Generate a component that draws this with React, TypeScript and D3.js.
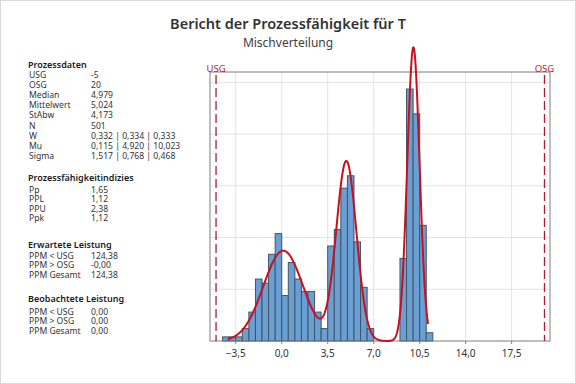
import * as d3 from "d3"

// histogram: lower bin edges (width 0.5) and counts
const binLower = [
  -4.5, -4.0, -3.5, -3.0, -2.5, -2.0, -1.5, -1.0, -0.5, 0.0, 0.5, 1.0, 1.5, 2.0,
  2.5, 3.0, 3.5, 4.0, 4.5, 5.0, 5.5, 6.0, 6.5, 7.0, 7.5, 8.0, 8.5, 9.0, 9.5,
  10.0, 10.5, 11.0,
]
const binCounts = [
  1, 1, 1, 3, 7, 15, 14, 21, 26, 11, 19, 15, 12, 12, 7, 3, 23, 27, 37, 40, 24,
  13, 3, 0, 0, 0, 0, 20, 61, 55, 28, 2,
]
const binWidth = 0.5
const sampleN = 501

// fitted mixture (W, Mu, Sigma as printed)
const mixW = [0.332, 0.334, 0.333]
const mixMu = [0.115, 4.92, 10.023]
const mixSigma = [1.517, 0.768, 0.468]
const curveRange = [-4.1, 11.15]

const lsl = -5
const usl = 20
const xTicks = [-3.5, 0, 3.5, 7, 10.5, 14, 17.5]
const yGrid = [0.05, 0.1, 0.15, 0.2, 0.25]

const title = "Bericht der Prozessfähigkeit für T"
const subtitle = "Mischverteilung"

const prozessdaten = [
  ["USG", "-5"],
  ["OSG", "20"],
  ["Median", "4,979"],
  ["Mittelwert", "5,024"],
  ["StAbw", "4,173"],
  ["N", "501"],
  ["W", "0,332 | 0,334 | 0,333"],
  ["Mu", "0,115 | 4,920 | 10,023"],
  ["Sigma", "1,517 | 0,768 | 0,468"],
]
const indizes = [
  ["Pp", "1,65"],
  ["PPL", "1,12"],
  ["PPU", "2,38"],
  ["Ppk", "1,12"],
]
const erwartet = [
  ["PPM < USG", "124,38"],
  ["PPM > OSG", "-0,00"],
  ["PPM Gesamt", "124,38"],
]
const beobachtet = [
  ["PPM < USG", "0,00"],
  ["PPM > OSG", "0,00"],
  ["PPM Gesamt", "0,00"],
]

const W = 576
const H = 384
const plot = { left: 210, right: 550, top: 72, bottom: 341 }
const font = "'Segoe UI', 'Noto Sans', sans-serif"

const de = d3.formatLocale({
  decimal: ",",
  thousands: ".",
  grouping: [3],
  currency: ["", " €"],
})
const fmt1 = de.format(".1f")

function normPdf(x: number, mu: number, s: number) {
  const z = (x - mu) / s
  return Math.exp(-0.5 * z * z) / (s * Math.sqrt(2 * Math.PI))
}

export default function App() {
  const x = d3.scaleLinear().domain([-5.46, 20.42]).range([plot.left, plot.right])
  const y = d3.scaleLinear().domain([0, 0.26]).range([plot.bottom, plot.top])

  const density = (c: number) => c / (sampleN * binWidth)

  const curvePts = d3
    .range(curveRange[0], curveRange[1] + 0.001, 0.02)
    .map((v) => [v, d3.sum(mixW, (w, i) => w * normPdf(v, mixMu[i], mixSigma[i]))] as [number, number])
  const line = d3
    .line<[number, number]>()
    .x((d) => x(d[0]))
    .y((d) => y(d[1]))

  const sections = [
    { head: "Prozessdaten", y0: 67.5, first: 77.5, step: 10.2, rows: prozessdaten },
    { head: "Prozessfähigkeitindizies", y0: 180.5, first: 192.5, step: 9.6, rows: indizes },
    { head: "Erwartete Leistung", y0: 247.5, first: 258.5, step: 9.8, rows: erwartet },
    { head: "Beobachtete Leistung", y0: 301.5, first: 314.5, step: 9.7, rows: beobachtet },
  ]

  return (
    <svg
      width={W}
      height={H}
      style={{ position: "fixed", left: 0, top: 0, background: "#fff" }}
      fontFamily={font}
    >
      <rect x={0.5} y={0.5} width={W - 1} height={H - 1} fill="#fff" stroke="#d9d9d9" />

      <text x={W / 2} y={29} textAnchor="middle" fontSize={14.5} fontWeight={600} fill="#333">
        {title}
      </text>
      <text x={W / 2} y={47} textAnchor="middle" fontSize={12} fill="#404040">
        {subtitle}
      </text>

      {sections.map((s) => (
        <g key={s.head}>
          <text x={28} y={s.y0} fontSize={9} fontWeight={600} fill="#1a1a1a">
            {s.head}
          </text>
          {s.rows.map((r, i) => (
            <g key={r[0]} fontSize={8.6} fill="#333">
              <text x={29} y={s.first + i * s.step}>
                {r[0]}
              </text>
              <text x={91} y={s.first + i * s.step}>
                {r[1]}
              </text>
            </g>
          ))}
        </g>
      ))}

      {/* gridlines */}
      {xTicks.map((t) => (
        <line key={"gx" + t} x1={x(t)} x2={x(t)} y1={plot.top} y2={plot.bottom} stroke="#e3e3e3" />
      ))}
      {yGrid.map((g) => (
        <line key={"gy" + g} x1={plot.left} x2={plot.right} y1={y(g)} y2={y(g)} stroke="#e3e3e3" />
      ))}

      {/* bars */}
      {binCounts.map((c, i) =>
        c > 0 ? (
          <rect
            key={"b" + i}
            x={x(binLower[i])}
            y={y(density(c))}
            width={x(binLower[i] + binWidth) - x(binLower[i])}
            height={y(0) - y(density(c))}
            fill="#6a9fd3"
            stroke="#3f5568"
            strokeWidth={1}
          />
        ) : null,
      )}

      {/* frame */}
      <rect
        x={plot.left}
        y={plot.top}
        width={plot.right - plot.left}
        height={plot.bottom - plot.top}
        fill="none"
        stroke="#7f7f7f"
      />

      {/* spec limits */}
      {[
        { v: lsl, label: "USG" },
        { v: usl, label: "OSG" },
      ].map((s) => (
        <g key={s.label}>
          <line
            x1={x(s.v)}
            x2={x(s.v)}
            y1={plot.top + 3}
            y2={plot.bottom}
            stroke="#b01c2e"
            strokeWidth={1.3}
            strokeDasharray="9,4"
          />
          <text x={x(s.v)} y={71.5} textAnchor="middle" fontSize={9.5} fill="#c0202f">
            {s.label}
          </text>
        </g>
      ))}

      {/* fitted curve */}
      <path d={line(curvePts) ?? ""} fill="none" stroke="#c8101e" strokeWidth={2} strokeLinejoin="round" />

      {/* x axis */}
      {xTicks.map((t) => (
        <g key={"t" + t}>
          <line x1={x(t)} x2={x(t)} y1={plot.bottom} y2={plot.bottom + 3} stroke="#7f7f7f" />
          <text x={x(t)} y={357} textAnchor="middle" fontSize={10} fill="#333">
            {fmt1(t)}
          </text>
        </g>
      ))}
    </svg>
  )
}
